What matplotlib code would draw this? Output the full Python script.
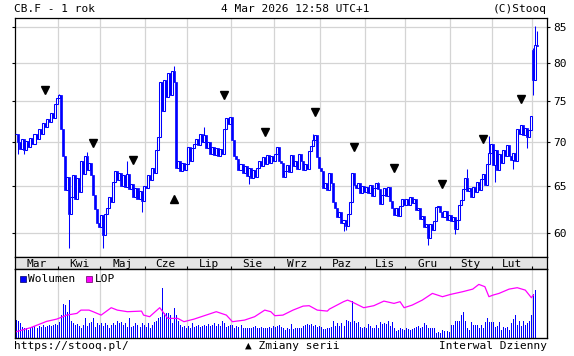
import numpy as np
import matplotlib.pyplot as plt
from matplotlib.patches import Rectangle
from matplotlib.ticker import NullLocator

# Miesiace i liczba sesji w kazdym (od marca 2025 do 4 marca 2026)
miesiace = ['Mar', 'Kwi', 'Maj', 'Cze', 'Lip', 'Sie', 'Wrz', 'Paz', 'Lis', 'Gru', 'Sty', 'Lut']
sesje_w_miesiacu = [21, 21, 22, 21, 22, 21, 23, 22, 20, 22, 21, 20, 3]

# Kursy zamkniecia
zamkniecie = [
    71.0, 70.0, 69.2, 70.3, 69.0, 70.1, 69.4, 70.5, 69.8, 70.9, 70.4, 71.6, 71.0, 72.3, 71.8, 72.8, 72.4, 73.5, 72.9, 74.6, 75.4,
    75.8, 71.5, 68.3, 64.5, 66.0, 62.0, 63.8, 66.2, 63.5, 65.8, 64.3, 67.8, 66.3, 68.4, 66.8, 67.6, 66.2, 64.0, 62.5, 61.0, 60.6,
    61.9, 59.8, 62.0, 62.6, 63.8, 63.2, 65.4, 66.6, 65.6, 66.4, 65.0, 66.2, 64.9, 66.3, 64.6, 65.2, 63.8, 64.8, 63.5, 64.4, 63.3, 65.0,
    64.8, 66.2, 65.6, 67.0, 66.4, 69.0, 70.6, 77.5, 73.8, 77.8, 75.5, 78.6, 75.8, 79.0, 77.5, 67.0, 67.8, 66.6, 67.6, 66.7, 67.4,
    69.4, 67.8, 69.3, 69.8, 70.4, 69.6, 71.0, 70.0, 70.8, 69.3, 70.0, 68.6, 69.4, 68.5, 69.3, 68.4, 69.2, 68.6, 71.6, 72.9, 72.2, 73.0,
    70.2, 68.4, 68.0, 66.8, 67.4, 66.4, 67.2, 66.1, 67.0, 65.9, 66.8, 66.0, 67.0, 67.8, 67.2, 68.2, 67.4, 68.5, 67.6, 68.4, 67.8,
    68.6, 69.4, 67.8, 67.5, 66.0, 66.6, 67.3, 66.5, 68.5, 67.2, 67.8, 66.9, 68.6, 67.8, 66.7, 67.4, 66.9, 68.9, 69.5, 70.2, 70.8, 68.2, 67.0,
    66.6, 64.8, 65.3, 64.5, 66.4, 65.3, 63.2, 62.6, 61.6, 62.2, 61.0, 61.3, 60.7, 62.0, 63.2, 66.4, 65.1, 64.8, 65.3, 64.2, 65.0, 64.3,
    64.9, 64.2, 65.1, 63.9, 64.8, 65.3, 64.6, 63.0, 64.0, 64.8, 63.9, 64.9, 63.3, 62.6, 61.9, 62.6, 61.8, 62.8, 63.5, 62.9,
    63.6, 62.9, 63.8, 63.1, 63.6, 62.4, 62.6, 61.4, 61.8, 60.6, 60.9, 59.5, 60.9, 60.3, 61.2, 62.7, 62.8, 62.2, 61.6, 62.3, 61.3, 61.9,
    61.2, 61.6, 60.4, 61.3, 62.9, 63.4, 64.6, 65.8, 64.4, 64.8, 63.8, 64.9, 64.3, 65.4, 64.5, 65.7, 66.3, 65.1, 67.4, 68.7, 69.8,
    67.3, 69.0, 66.8, 68.6, 67.5, 69.1, 68.4, 69.6, 68.3, 67.9, 68.7, 67.8, 71.6, 70.9, 72.0, 70.8, 71.7, 70.6, 71.4, 73.2,
    77.8, 82.5, 82.3,
]

# Widoczne dlugie cienie (sesja, cena)
knoty_dol = [(1, 68.6), (4, 68.6), (26, 58.5), (43, 58.5), (62, 62.2), (115, 65.2), (162, 60.2),
             (163, 60.3), (204, 58.8), (217, 59.9), (237, 65.4), (246, 66.9), (253, 69.3), (256, 75.8)]
knoty_gora = [(21, 75.9), (35, 68.8), (55, 67.8), (78, 79.6), (93, 71.8), (147, 70.9), (179, 65.4),
              (223, 66.9), (234, 70.7), (256, 82.0), (257, 85.2), (258, 84.5)]
otwarcia_z_luka = [(256, 81.8)]

# Zmiany serii
zmiany_v = [(14, 76.4), (38, 69.9), (58, 67.9), (103, 75.8), (123, 71.2), (148, 73.6),
            (167, 69.4), (187, 67.0), (211, 65.2), (231, 70.4), (250, 75.3)]
zmiany_a = [(78, 63.5)]

# Wolumen dzienny
wolumen = [
    177, 167, 143, 110, 100, 93, 77, 100, 110, 120, 100, 120, 110, 127, 110, 120, 127, 120, 127, 133, 127,
    160, 227, 333, 327, 260, 377, 167, 143, 127, 133, 120, 100, 127, 193, 120, 143, 153, 193, 110, 143, 127,
    143, 120, 143, 127, 100, 127, 143, 127, 167, 143, 153, 127, 143, 110, 193, 110, 120, 143, 127, 110, 143, 127,
    110, 143, 100, 127, 153, 167, 193, 210, 493, 243, 243, 243, 227, 143, 293, 227, 167, 127, 110, 120, 100,
    120, 100, 143, 110, 120, 127, 110, 120, 127, 120, 133, 120, 127, 143, 120, 133, 120, 167, 143, 110, 120, 127,
    127, 100, 120, 110, 127, 100, 100, 100, 100, 100, 110, 120, 100, 100, 110, 100, 93, 100, 110, 100, 120,
    110, 120, 127, 110, 100, 77, 100, 87, 133, 87, 100, 93, 100, 100, 120, 127, 133, 127, 133, 120, 127, 110, 120,
    110, 87, 87, 93, 100, 110, 167, 120, 143, 120, 143, 120, 177, 167, 160, 367, 167, 143, 160, 110, 100, 110,
    100, 133, 120, 93, 100, 127, 100, 160, 133, 143, 133, 167, 120, 160, 100, 67, 77, 93, 87, 77,
    93, 87, 77, 87, 100, 110, 120, 93, 110, 143, 127, 100, 93, 100, 100, 43, 60, 43, 77, 67, 67, 60,
    127, 127, 167, 167, 167, 227, 253, 167, 100, 77, 153, 127, 127, 127, 100, 127, 100, 153, 193, 153, 153,
    153, 110, 120, 153, 77, 110, 100, 110, 77, 143, 187, 227, 127, 167, 120, 167, 127, 143, 167, 227,
    433, 477, 0,
]

# Liczba otwartych pozycji (punkty)
lop_dzien = [0, 3, 7, 15, 20, 25, 30, 32, 36, 38, 42, 47, 50, 55, 62, 63, 66, 71, 75, 80, 83, 88, 95, 99,
             104, 107, 113, 118, 123, 126, 128, 132, 137, 142, 145, 149, 154, 155, 162, 164, 166, 172,
             177, 182, 187, 190, 192, 196, 201, 206, 211, 215, 221, 226, 229, 232, 234, 236, 239, 244,
             248, 252, 255, 256]
lop = [600, 770, 1000, 1630, 1860, 2260, 2430, 2760, 2760, 2600, 2260, 3000, 2760, 2600, 2660, 2260,
       2100, 3000, 1930, 1930, 1600, 1860, 2330, 2600, 2260, 1600, 1760, 2100, 2760, 2600, 2200, 2260,
       2760, 3160, 3200, 2760, 2660, 2860, 3600, 3760, 3600, 3000, 3200, 3660, 3430, 3600, 3000, 3260,
       3760, 4430, 4100, 4330, 4600, 4860, 5330, 5100, 4100, 4260, 4430, 4860, 5000, 4760, 4000, 4260]

niebieski = '#0000ff'
siatka = '#d4d4d4'
plt.rcParams['font.family'] = ['DejaVu Sans Mono', 'DejaVu Sans']
plt.rcParams['font.size'] = 8

W, H = 574, 356
fig = plt.figure(figsize=(W / 100, H / 100), dpi=100)

def fx(px):
    return px / W

def fy(py):
    return 1 - py / H

left, right = 15, 547.3
xlim = (-0.65, 262.9)
poczatki = np.cumsum([0] + sesje_w_miesiacu)[:-1]
granice = poczatki[1:] - 0.5

# --- wykres cen (swiece) ---
ax = fig.add_axes([fx(left), fy(257.3), fx(right - left), (257.3 - 18.3) / H])
n = len(zamkniecie)
x = np.arange(n)
c = np.array(zamkniecie)
o = np.r_[c[0], c[:-1]]
for d, v in otwarcia_z_luka:
    o[d] = v
dol = np.minimum(o, c)
gora = np.maximum(o, c)
wzrost = c >= o
for d, v in knoty_dol:
    ax.vlines(d, v, dol[d], color=niebieski, lw=0.75, zorder=2.5)
for d, v in knoty_gora:
    ax.vlines(d, gora[d], v, color=niebieski, lw=0.75, zorder=2.5)
ax.bar(x[~wzrost], (gora - dol)[~wzrost], bottom=dol[~wzrost], width=1.0,
       color=niebieski, edgecolor=niebieski, lw=0.5, zorder=3)
ax.bar(x[wzrost], (gora - dol)[wzrost], bottom=dol[wzrost], width=1.0,
       color='white', edgecolor=niebieski, lw=0.75, zorder=3)

ax.plot([d for d, v in zmiany_v], [v for d, v in zmiany_v], ls='none', marker='v',
        ms=6, color='black', zorder=4)
ax.plot([d for d, v in zmiany_a], [v for d, v in zmiany_a], ls='none', marker='^',
        ms=6, color='black', zorder=4)

ax.set_yscale('log')
ax.set_ylim(57.58, 86.3)
ax.set_xlim(*xlim)
ceny = [60, 65, 70, 75, 80, 85]
ax.set_yticks(ceny)
ax.set_yticklabels([str(v) for v in ceny])
ax.yaxis.set_minor_locator(NullLocator())
ax.yaxis.tick_right()
ax.tick_params(axis='y', direction='out', length=2.5, width=0.8, pad=1.5, labelsize=8)
ax.set_xticks(granice)
ax.tick_params(axis='x', direction='out', length=2.5, width=0.8, labelbottom=False)
ax.plot(np.zeros(len(ceny)), ceny, ls='none', marker=0, ms=2.5, mew=0.8, color='black',
        transform=ax.get_yaxis_transform(), clip_on=False)
ax.grid(color=siatka, lw=0.9)
ax.set_axisbelow(True)
for s in ax.spines.values():
    s.set_linewidth(0.9)

# --- pasek z miesiacami ---
axm = fig.add_axes([fx(left), fy(269), fx(right - left), 11.7 / H])
axm.set_facecolor('#e4e4e4')
axm.set_xlim(*xlim)
axm.set_ylim(0, 1)
axm.set_xticks([])
axm.set_yticks([])
for s in axm.spines.values():
    s.set_linewidth(0.9)
for m, p0, k in zip(miesiace, poczatki, sesje_w_miesiacu):
    axm.text(p0 + k / 2 - 0.5, 0.45, m, ha='center', va='center', fontsize=8)

# --- wolumen i LOP ---
axv = fig.add_axes([fx(left), fy(337.7), fx(right - left), (337.7 - 269) / H])
axv.vlines(x, 0, wolumen, color=niebieski, lw=0.5, antialiased=False)
axv.set_xlim(*xlim)
axv.set_ylim(0, 687)
axv.set_yticks([])
axv.set_xticks(granice)
axv.tick_params(axis='x', direction='out', length=2.5, width=0.8, top=True, bottom=False,
                labeltop=False, labelbottom=False)
axv.grid(axis='x', color=siatka, lw=0.9)
axv.set_axisbelow(True)
for s in axv.spines.values():
    s.set_linewidth(0.9)
axl = axv.twinx()
axl.plot(lop_dzien, lop, color='#ff00ff', lw=0.9)
axl.set_ylim(0, 6870)
axl.set_yticks([])
axl.set_xlim(*xlim)

# legenda
fig.patches.append(Rectangle((fx(20), fy(282)), fx(6), 6 / H, transform=fig.transFigure,
                             facecolor=niebieski, edgecolor='#000060', lw=0.5))
fig.text(fx(28.5), fy(279), 'Wolumen', ha='left', va='center', fontsize=8)
fig.patches.append(Rectangle((fx(86), fy(282)), fx(6), 6 / H, transform=fig.transFigure,
                             facecolor='#ff00ff', edgecolor='#600060', lw=0.5))
fig.text(fx(94.5), fy(279), 'LOP', ha='left', va='center', fontsize=8)

# napisy
fig.text(fx(14), fy(9), 'CB.F - 1 rok', ha='left', va='center')
fig.text(fx(295), fy(9), '4 Mar 2026 12:58 UTC+1', ha='center', va='center')
fig.text(fx(547), fy(9), '(C)Stooq', ha='right', va='center')
fig.text(fx(14), fy(346), 'https://stooq.pl/', ha='left', va='center')
fig.text(fx(292.5), fy(346), '▲ Zmiany serii', ha='center', va='center')
fig.text(fx(547), fy(346), 'Interwal Dzienny', ha='right', va='center')

plt.savefig('out.png', dpi=100)
